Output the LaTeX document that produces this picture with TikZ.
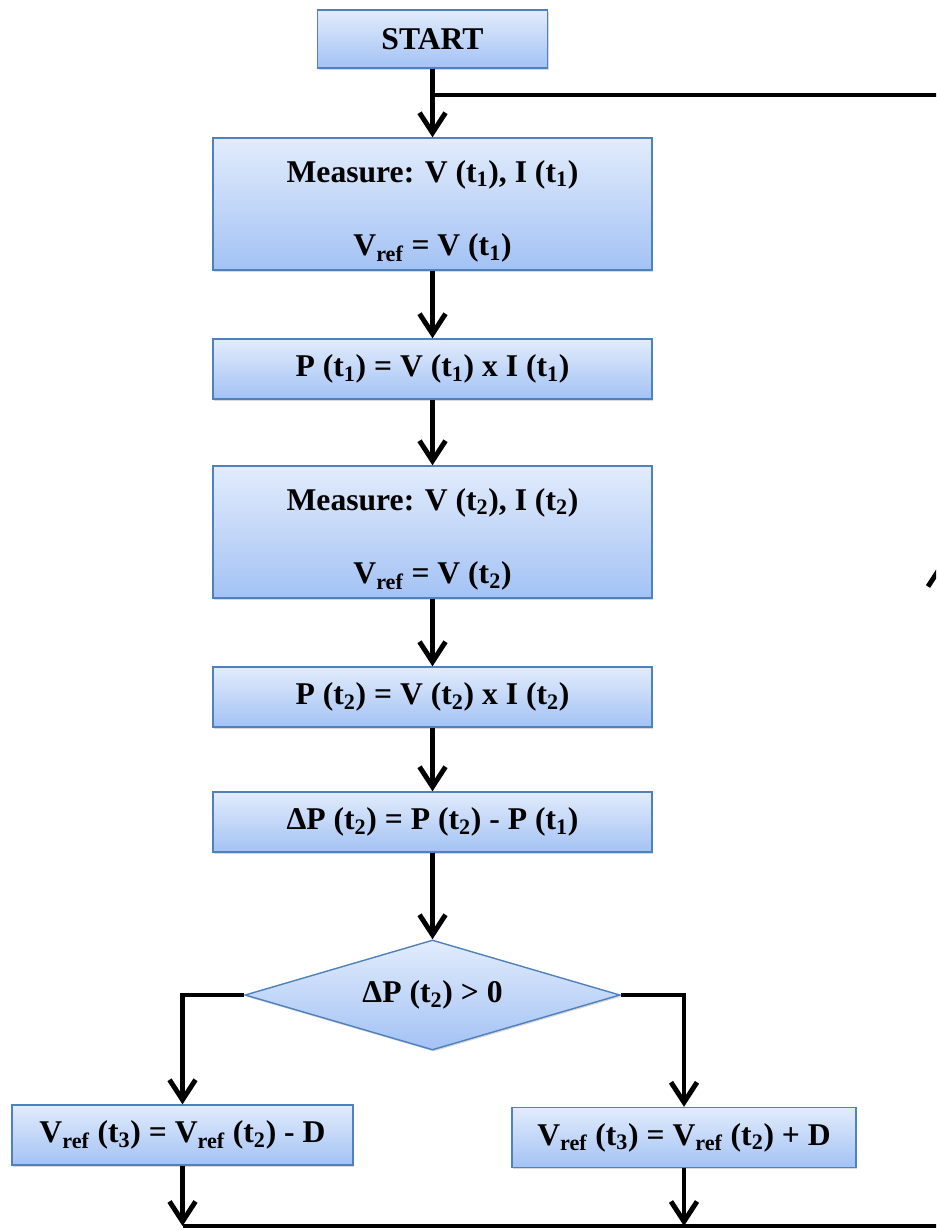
\documentclass[tikz,border=0pt]{standalone}
\usepackage{fontspec}
\setmainfont{Liberation Serif}
\usetikzlibrary{arrows.meta,shapes.geometric,shadows}
\definecolor{boxline}{HTML}{4F81BD}
\definecolor{boxtop}{HTML}{E2ECFC}
\definecolor{boxbot}{HTML}{A3C2F4}

\begin{document}
\begin{tikzpicture}[x=0.025cm,y=-0.025cm,
    blk/.style={draw=boxline, line width=1pt, top color=boxtop, bottom color=boxbot,
      align=center, inner sep=0pt, font=\fontsize{22.5}{27}\selectfont\bfseries,
      drop shadow={shadow xshift=0.8pt,shadow yshift=-1.2pt,opacity=0.3}},
    flow/.style={line width=3.5pt, -{Straight Barb[length=5mm,width=6.5mm]}},
    wire/.style={line width=3.5pt}]
  \clip (0,0) rectangle (936,1230);

  \node (start) at (432.5,39) [blk, minimum width=5.75cm, minimum height=1.45cm] {START};
  \node (meas1) at (432.5,204) [blk, minimum width=10.975cm, minimum height=3.3cm]
    {\rule{0pt}{26pt}Measure: V (t\textsubscript{1}), I (t\textsubscript{1})\\[25pt] V\textsubscript{ref} = V (t\textsubscript{1})};
  \node (pow1) at (432.5,369) [blk, minimum width=10.975cm, minimum height=1.5cm]
    {P (t\textsubscript{1}) = V (t\textsubscript{1}) x I (t\textsubscript{1})};
  \node (meas2) at (432.5,532) [blk, minimum width=10.975cm, minimum height=3.3cm]
    {\rule{0pt}{26pt}Measure: V (t\textsubscript{2}), I (t\textsubscript{2})\\[25pt] V\textsubscript{ref} = V (t\textsubscript{2})};
  \node (pow2) at (432.5,697) [blk, minimum width=10.975cm, minimum height=1.5cm]
    {P (t\textsubscript{2}) = V (t\textsubscript{2}) x I (t\textsubscript{2})};
  \node (delta) at (432.5,822) [blk, minimum width=10.975cm, minimum height=1.5cm]
    {ΔP (t\textsubscript{2}) = P (t\textsubscript{2}) - P (t\textsubscript{1})};
  \node (test) at (432.5,995) [blk, diamond, aspect=3.4, minimum width=9.375cm, minimum height=2.75cm, drop shadow={opacity=0}]
    {ΔP (t\textsubscript{2}) > 0};
  \node (down) at (182.5,1135) [blk, minimum width=8.525cm, minimum height=1.5cm]
    {V\textsubscript{ref} (t\textsubscript{3}) = V\textsubscript{ref} (t\textsubscript{2}) - D};
  \node (up) at (684,1137.5) [blk, minimum width=8.6cm, minimum height=1.5cm]
    {V\textsubscript{ref} (t\textsubscript{3}) = V\textsubscript{ref} (t\textsubscript{2}) + D};

  \coordinate (join) at (432.5,95);
  \coordinate (ne) at (941,95);
  \coordinate (mid) at (941,562);
  \coordinate (se) at (941,1226);

  \draw[flow] (start) -- (meas1);
  \draw[flow] (meas1) -- (pow1);
  \draw[flow] (pow1) -- (meas2);
  \draw[flow] (meas2) -- (pow2);
  \draw[flow] (pow2) -- (delta);
  \draw[flow] (delta) -- (test);
  \draw[flow] (test.west) -| (down.north);
  \draw[flow] (test.east) -| (up.north);
  \draw[flow] (down.south) -- (down.south |- se);
  \draw[flow] (up.south) -- (up.south |- se);

  \draw[wire] (down.south |- se) -- (se);
  \draw[flow] (se) -- (mid);
  \draw[wire] (mid) -- (ne) -- (join);
\end{tikzpicture}
\end{document}
